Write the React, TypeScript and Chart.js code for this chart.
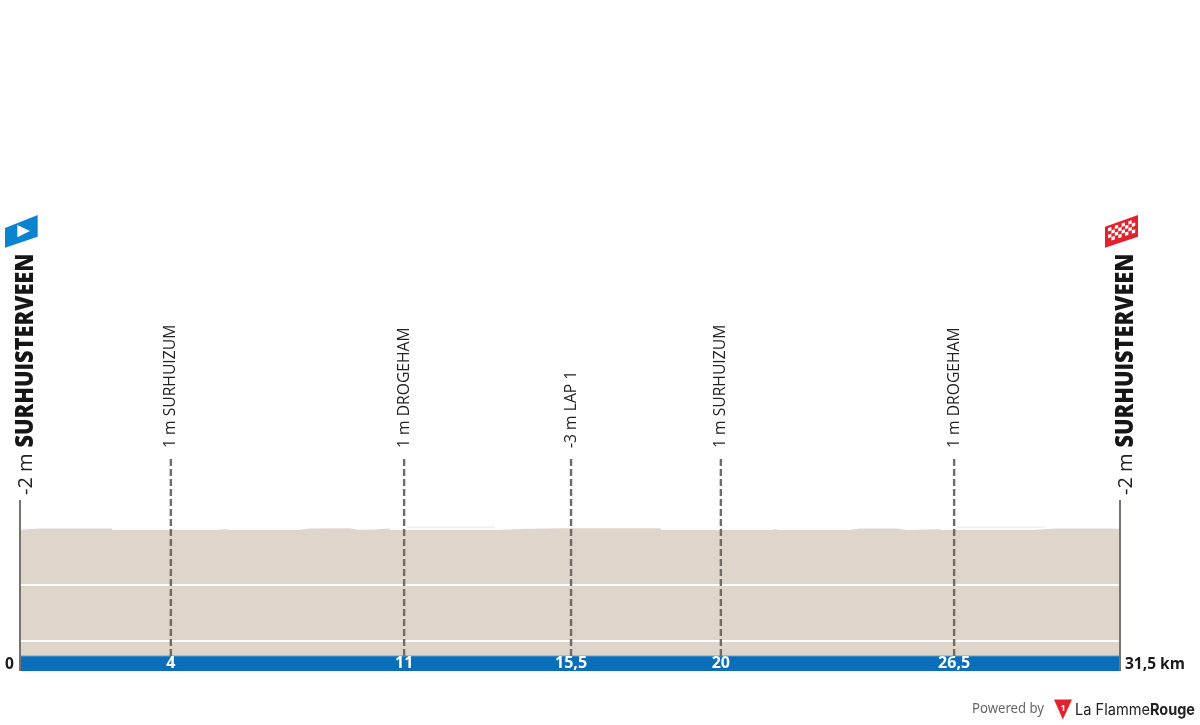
import React, { useEffect, useRef } from "react";
import { Chart, registerables } from "chart.js";

Chart.register(...registerables);

const totalKm = 31.5;
const startLabel = "SURHUISTERVEEN";
const startElevationLabel = "-2 m";
const profileKm = [0, 0.29, 0.57, 2.63, 2.66, 5.58, 5.87, 6.07, 7.96, 8.3, 9.45, 9.68, 10.17, 10.57, 10.6, 13.6, 14.6, 15.47, 18.33, 18.38, 21.48, 21.62, 21.76, 23.7, 24.07, 25.06, 25.4, 26.35, 26.38, 29.0, 29.64, 31.22, 31.5];
const profileElevation = [-3, -2.5, -2.2, -2.2, -3, -3, -2.6, -3, -3, -2.2, -2.1, -2.9, -2.7, -2.2, -3, -3, -2.4, -2.1, -2.1, -3, -3, -2.6, -3, -3, -2.3, -2.2, -3, -2.6, -3, -3, -2.3, -2.2, -2.4];
const ridgeLaps = [[11.05, 13.6], [26.8, 29.35]];
const ridgeElevation = -1.6;
const markKm = [4.32, 11.0, 15.78, 20.07, 26.75];
const markLabels = ["1 m SURHUIZUM", "1 m DROGEHAM", "-3 m LAP 1", "1 m SURHUIZUM", "1 m DROGEHAM"];
const markBandLabels = ["4", "11", "15,5", "20", "26,5"];
const gridElevations = [-30.5, -58.5];
const yMin = -73.5;
const yMax = 40;
const bandTop = -66;
const markTop = 33.5;
const endLineTop = 12;

const TAN = "#ded5cb";
const BLUE = "#0a6eb8";
const GREY = "#6f6b68";
const FONT = '"Open Sans"';

const line = (data: { x: number; y: number }[], extra: object) => ({
  type: "line" as const,
  data,
  pointRadius: 0,
  tension: 0,
  borderWidth: 0,
  ...extra,
});

const labelsPlugin = {
  id: "profileLabels",
  afterDraw(chart: any) {
    const { ctx, scales } = chart;
    const x = scales.x;
    const rotated = (text: string, px: number, py: number, font: string, color: string, maxW?: number) => {
      ctx.save();
      ctx.translate(px, py);
      ctx.rotate(-Math.PI / 2);
      ctx.font = font;
      ctx.fillStyle = color;
      ctx.textAlign = "left";
      ctx.textBaseline = "alphabetic";
      ctx.fillText(text, 0, 0, maxW);
      ctx.restore();
    };
    const poly = (pts: number[][], color: string) => {
      ctx.fillStyle = color;
      ctx.beginPath();
      pts.forEach((p, i) => (i ? ctx.lineTo(p[0], p[1]) : ctx.moveTo(p[0], p[1])));
      ctx.closePath();
      ctx.fill();
    };

    [0, totalKm].forEach((km) => {
      const px = x.getPixelForValue(km);
      rotated(startElevationLabel, px + 12, 495, `400 20px ${FONT}`, "#222");
      rotated(startLabel, px + 13, 447.5, `800 24px ${FONT}`, "#161616", 194);
    });

    markKm.forEach((km, i) => {
      const px = x.getPixelForValue(km);
      rotated(markLabels[i], px + 4.5, 448, `400 15.7px ${FONT}`, "#222");
      ctx.font = `700 16px ${FONT}`;
      ctx.fillStyle = "#fff";
      ctx.textAlign = "center";
      ctx.textBaseline = "middle";
      ctx.fillText(markBandLabels[i], px, 663);
    });

    ctx.font = `700 15.5px ${FONT}`;
    ctx.fillStyle = "#1a1a1a";
    ctx.textBaseline = "middle";
    ctx.textAlign = "left";
    ctx.fillText("0", 5, 665);
    ctx.fillText("31,5 km", 1125, 665);

    // start flag
    poly([[5, 228], [37.7, 215], [37.7, 236.7], [5, 247.7]], "#0b84cf");
    poly([[17.3, 225], [17.3, 237.3], [30, 231]], "#fff");

    // finish flag
    poly([[1105, 226.7], [1138, 215], [1138, 236.7], [1105, 247.7]], "#e5212d");
    const s = 3.4;
    for (let c = 0; c < 8; c++) {
      for (let r = 0; r < 4; r++) {
        if ((c + r) % 2) continue;
        const sx = 1108 + c * s;
        const sy = 228 - c * s * 0.33 + r * s;
        poly([[sx, sy], [sx + s, sy - 1.1], [sx + s, sy + s - 1.1], [sx, sy + s]], "#fff");
      }
    }

    // footer
    ctx.textBaseline = "alphabetic";
    ctx.textAlign = "left";
    ctx.fillStyle = "#666";
    ctx.font = '400 13.5px "Noto Sans"';
    ctx.fillText("Powered by", 972, 713, 72);
    poly([[1054, 699.5], [1072, 699.5], [1062.8, 719.5]], "#e5212d");
    ctx.fillStyle = "#fff";
    ctx.font = `700 9px ${FONT}`;
    ctx.textAlign = "center";
    ctx.fillText("1", 1063, 711);
    ctx.textAlign = "left";
    ctx.fillStyle = "#222";
    ctx.font = "400 16px Inter";
    ctx.fillText("La Flamme", 1075, 714.5, 75);
    const w = Math.min(ctx.measureText("La Flamme").width, 75);
    ctx.font = "700 16px Inter";
    ctx.fillText("Rouge", 1075 + w, 714.5, 1195 - 1075 - w);
  },
};

export default function App() {
  const ref = useRef<HTMLCanvasElement>(null);
  useEffect(() => {
    if (!ref.current) return;
    const datasets: any[] = [
      line(profileKm.map((k, i) => ({ x: k, y: profileElevation[i] })), {
        label: "Profile",
        fill: "start",
        backgroundColor: TAN,
        order: 10,
      }),
      ...ridgeLaps.map((r) =>
        line(r.map((k) => ({ x: k, y: ridgeElevation })), {
          label: "Ridge",
          borderColor: "#ece6df",
          borderWidth: 1,
          order: 9,
        })
      ),
      ...gridElevations.map((g) =>
        line([{ x: 0, y: g }, { x: totalKm, y: g }], {
          label: "Grid",
          borderColor: "#ffffff",
          borderWidth: 2,
          order: 8,
        })
      ),
      line([{ x: 0, y: bandTop }, { x: totalKm, y: bandTop }], {
        label: "Band",
        fill: "start",
        backgroundColor: BLUE,
        borderColor: "#5f9fcf",
        borderWidth: 1,
        order: 7,
      }),
      ...markKm.map((k) =>
        line([{ x: k, y: bandTop }, { x: k, y: markTop }], {
          label: "Mark",
          borderColor: GREY,
          borderWidth: 2.4,
          borderDash: [7, 3],
          order: 6,
        })
      ),
      ...[0, totalKm].map((k) =>
        line([{ x: k, y: yMin }, { x: k, y: endLineTop }], {
          label: "End",
          borderColor: "#77736f",
          borderWidth: 2,
          clip: false,
          order: 5,
        })
      ),
    ];
    const chart = new Chart(ref.current, {
      type: "line",
      data: { datasets },
      options: {
        animation: false,
        responsive: false,
        devicePixelRatio: 1,
        layout: { padding: { left: 20, right: 80, top: 444, bottom: 54 } },
        plugins: { legend: { display: false }, tooltip: { enabled: false }, title: { display: false } },
        scales: {
          x: { type: "linear", min: 0, max: totalKm, display: false },
          y: { type: "linear", min: yMin, max: yMax, display: false },
        },
      },
      plugins: [labelsPlugin],
    } as any);
    return () => chart.destroy();
  }, []);
  return (
    <canvas
      ref={ref}
      width={1200}
      height={725}
      style={{ position: "absolute", left: 0, top: 0, width: 1200, height: 725, display: "block", background: "#fff" }}
    />
  );
}
